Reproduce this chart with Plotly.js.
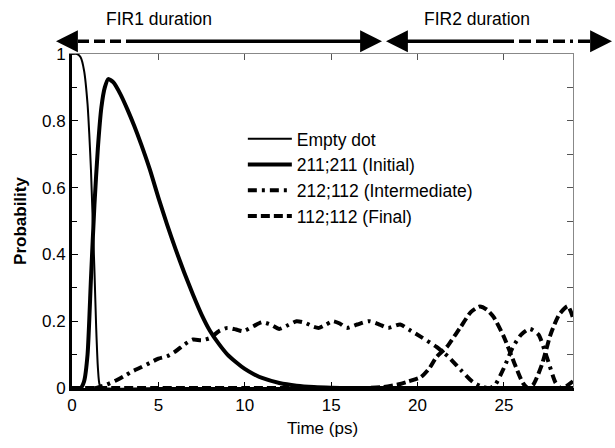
<!DOCTYPE html>
<html>
<head>
<meta charset="utf-8">
<script src="https://cdn.plot.ly/plotly-3.0.1.min.js"></script>
<style>html,body{margin:0;padding:0;background:#fff}#chart{width:615px;height:448px}</style>
</head>
<body>
<div id="chart"></div>
<script>
// ---- Data ----
const seriesNames = ["Empty dot", "211;211 (Initial)", "212;112 (Intermediate)", "112;112 (Final)"];

const tEmpty = [0, 0.3, 0.5, 0.7, 0.9, 1.0, 1.1, 1.2, 1.3, 1.4, 1.5, 1.6, 1.8, 5, 10, 15, 20, 25, 29];
const pEmpty = [1, 1, 0.99, 0.95, 0.85, 0.76, 0.65, 0.5, 0.35, 0.18, 0.06, 0.01, 0, 0, 0, 0, 0, 0, 0];

const tInitial = [0, 0.5, 0.7, 0.9, 1.1, 1.3, 1.5, 1.7, 1.9, 2.1, 2.4, 2.8, 3.2, 3.6, 4, 4.5, 5, 5.5, 6, 6.5, 7, 7.5, 8, 8.5, 9, 9.5, 10, 10.5, 11, 12, 13, 14, 15, 16, 20, 25, 29];
const pInitial = [0, 0, 0.02, 0.1, 0.33, 0.55, 0.72, 0.84, 0.9, 0.925, 0.915, 0.88, 0.835, 0.785, 0.73, 0.655, 0.57, 0.49, 0.415, 0.345, 0.28, 0.22, 0.17, 0.132, 0.1, 0.077, 0.057, 0.042, 0.03, 0.015, 0.007, 0.003, 0.001, 0, 0, 0, 0];

const tInter = [0, 1.4, 1.6, 2, 2.6, 3, 3.5, 4, 4.5, 5, 5.5, 6, 6.5, 7, 7.5, 8, 8.5, 9, 9.5, 9.9, 10.5, 11, 11.5, 12, 12.5, 13, 13.5, 14, 14.3, 14.7, 15.1, 15.5, 15.9, 16.5, 17.2, 17.8, 18.3, 19, 19.5, 20.2, 21.1, 21.8, 22.5, 23.2, 23.8, 24.2, 24.5, 25, 25.5, 26, 26.5, 27, 27.5, 28, 28.3, 28.6, 29];
const pInter = [0, 0, 0.003, 0.01, 0.024, 0.035, 0.05, 0.062, 0.075, 0.088, 0.095, 0.11, 0.13, 0.145, 0.143, 0.15, 0.17, 0.18, 0.175, 0.17, 0.185, 0.197, 0.19, 0.177, 0.188, 0.2, 0.195, 0.183, 0.18, 0.19, 0.2, 0.193, 0.18, 0.19, 0.2, 0.19, 0.18, 0.19, 0.175, 0.153, 0.123, 0.093, 0.054, 0.018, 0.003, 0, 0.01, 0.06, 0.12, 0.16, 0.177, 0.16, 0.09, 0.015, 0, 0.005, 0.02];

const tFinal = [0, 5, 10, 15, 17, 18, 19, 19.5, 20.2, 20.7, 21.1, 21.7, 22.2, 22.5, 23.1, 23.6, 24, 24.4, 25, 25.6, 26.1, 26.4, 26.7, 27.2, 27.7, 28.2, 28.7, 29];
const pFinal = [0, 0, 0, 0, 0, 0.003, 0.012, 0.02, 0.033, 0.06, 0.093, 0.123, 0.16, 0.183, 0.228, 0.244, 0.235, 0.213, 0.153, 0.075, 0.015, 0, 0.01, 0.07, 0.16, 0.22, 0.245, 0.21];

const xTicks = [0, 5, 10, 15, 20, 25];
const yTicks = [0, 0.2, 0.4, 0.6, 0.8, 1];
const xLabel = "Time (ps)";
const yLabel = "Probability";
const fir1Label = "FIR1 duration";
const fir2Label = "FIR2 duration";

// ---- Chart ----
const FONT = "Liberation Sans, Arial, Helvetica, sans-serif";
const sm = 0.6;
const traces = [
  {x: tEmpty, y: pEmpty, name: seriesNames[0], mode: "lines",
   line: {color: "#000", width: 2, shape: "spline", smoothing: sm}},
  {x: tInitial, y: pInitial, name: seriesNames[1], mode: "lines",
   line: {color: "#000", width: 4, shape: "spline", smoothing: sm}},
  {x: tInter, y: pInter, name: seriesNames[2], mode: "lines",
   line: {color: "#000", width: 4, dash: "9px,5px,3px,5px", shape: "spline", smoothing: sm}},
  {x: tFinal, y: pFinal, name: seriesNames[3], mode: "lines",
   line: {color: "#000", width: 4, dash: "9px,4px", shape: "spline", smoothing: sm}},
  {x: [], y: [], xaxis: "x2", yaxis: "y2", showlegend: false, hoverinfo: "skip", mode: "lines"}
];

function px2paperX(px) { return (px - 72) / 501; }
const arrowY = 1.038;

const shapes = [
  {type: "line", xref: "paper", yref: "paper", x0: px2paperX(62), x1: px2paperX(131), y0: arrowY, y1: arrowY,
   line: {color: "#000", width: 3.5, dash: "11px,5px"}},
  {type: "line", xref: "paper", yref: "paper", x0: px2paperX(131), x1: px2paperX(374), y0: arrowY, y1: arrowY,
   line: {color: "#000", width: 3.5}},
  {type: "line", xref: "paper", yref: "paper", x0: px2paperX(393), x1: px2paperX(502), y0: arrowY, y1: arrowY,
   line: {color: "#000", width: 3.5}},
  {type: "line", xref: "paper", yref: "paper", x0: px2paperX(502), x1: px2paperX(604), y0: arrowY, y1: arrowY,
   line: {color: "#000", width: 3.5, dash: "12px,5px,12px,5px,12px,5px,12px,5px,3px,5px"}}
];

function head(px, dir) {
  return {xref: "paper", yref: "paper", x: px2paperX(px), y: arrowY, text: "", showarrow: true,
          ax: dir * 18, ay: 0, arrowhead: 2, arrowsize: 1.25, arrowwidth: 3.5, arrowcolor: "#000", standoff: 0};
}

const annotations = [
  head(56, 1), head(382, -1), head(386, 1), head(612, -1),
  {xref: "paper", yref: "paper", x: px2paperX(159), y: (388 - 19) / 334, yanchor: "middle", xanchor: "center",
   text: fir1Label, showarrow: false, font: {family: FONT, size: 17.5, color: "#000"}},
  {xref: "paper", yref: "paper", x: px2paperX(477), y: (388 - 19) / 334, yanchor: "middle", xanchor: "center",
   text: fir2Label, showarrow: false, font: {family: FONT, size: 17.5, color: "#000"}}
];

const layout = {
  width: 615, height: 448,
  margin: {l: 72, r: 42, t: 54, b: 60},
  paper_bgcolor: "#fff", plot_bgcolor: "#fff",
  font: {family: FONT, size: 17, color: "#000"},
  showlegend: true,
  legend: {x: 0.341, y: 0.80, xanchor: "left", yanchor: "top", bgcolor: "rgba(0,0,0,0)", itemwidth: 44,
           font: {family: FONT, size: 17.5, color: "#000"}, tracegroupgap: 0},
  xaxis: {range: [0, 29], tickvals: xTicks, ticks: "inside", ticklen: 6, tickcolor: "#000",
          showgrid: false, zeroline: false, showline: true, linecolor: "#000", linewidth: 3,
          tickfont: {family: FONT, size: 17}, title: {text: xLabel, font: {family: FONT, size: 17}, standoff: 8}},
  yaxis: {range: [0, 1], tickvals: yTicks, ticks: "inside", ticklen: 6, tickcolor: "#000",
          minor: {dtick: 0.1, ticks: "inside", ticklen: 5, tickcolor: "#000", showgrid: false},
          showgrid: false, zeroline: false, showline: true, linecolor: "#000", linewidth: 3,
          tickfont: {family: FONT, size: 17},
          title: {text: "<b>" + yLabel + "</b>", font: {family: FONT, size: 17}, standoff: 12}},
  xaxis2: {overlaying: "x", side: "top", anchor: "y2", matches: "x", range: [0, 29], tickvals: xTicks,
           ticks: "inside", ticklen: 6, tickcolor: "#555", showticklabels: false, showgrid: false,
           zeroline: false, showline: true, linecolor: "#888", linewidth: 1},
  yaxis2: {overlaying: "y", side: "right", anchor: "x2", range: [0, 1], dtick: 0.1, tick0: 0,
           ticks: "inside", ticklen: 6, tickcolor: "#555", showticklabels: false, showgrid: false,
           zeroline: false, showline: true, linecolor: "#888", linewidth: 1},
  shapes: shapes,
  annotations: annotations
};

Plotly.newPlot("chart", traces, layout, {displayModeBar: false, staticPlot: true});
</script>
</body>
</html>
